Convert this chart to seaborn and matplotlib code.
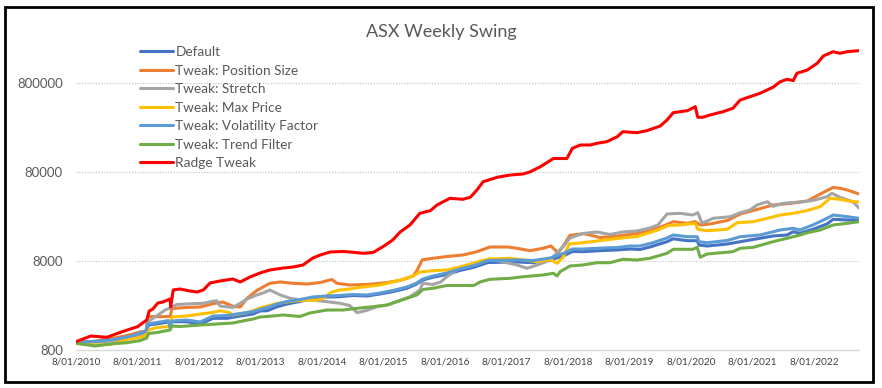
import numpy as np
import pandas as pd
import matplotlib
matplotlib.use("Agg")
import matplotlib.pyplot as plt
from matplotlib.patches import Rectangle
from matplotlib.ticker import NullLocator
import seaborn as sns

title = "ASX Weekly Swing"
series_names = ["Default", "Tweak: Position Size", "Tweak: Stretch", "Tweak: Max Price",
                "Tweak: Volatility Factor", "Tweak: Trend Filter", "Radge Tweak"]
series_colors = ["#4472C4", "#ED7D31", "#A5A5A5", "#FFC000", "#5B9BD5", "#70AD47", "#FF0000"]
x_tick_labels = ["8/01/2010", "8/01/2011", "8/01/2012", "8/01/2013", "8/01/2014", "8/01/2015",
                 "8/01/2016", "8/01/2017", "8/01/2018", "8/01/2019", "8/01/2020", "8/01/2021",
                 "8/01/2022"]
y_ticks = [800, 8000, 80000, 800000]
y_tick_labels = ["800", "8000", "80000", "800000"]

# time as decimal years, equity values
default_t = [2010.02, 2010.41, 2010.69, 2010.95, 2011.11, 2011.17, 2011.20, 2011.39, 2011.55, 2011.82,
             2012.04, 2012.25, 2012.48, 2012.69, 2012.90, 2013.01, 2013.13, 2013.29, 2013.45, 2013.66,
             2013.87, 2014.10, 2014.31, 2014.52, 2014.75, 2014.96, 2015.17, 2015.40, 2015.56, 2015.66,
             2015.82, 2016.05, 2016.26, 2016.49, 2016.72, 2017.19, 2017.45, 2017.73, 2017.94, 2018.09,
             2018.26, 2018.59, 2018.82, 2019.03, 2019.19, 2019.35, 2019.63, 2019.73, 2019.96, 2020.12,
             2020.15, 2020.28, 2020.61, 2020.82, 2021.14, 2021.35, 2021.58, 2021.68, 2021.79, 2022.00,
             2022.23, 2022.33, 2022.56, 2022.75]
default_v = [978, 1000, 1044, 1136, 1241, 1351, 1537, 1606, 1673, 1673,
             1577, 1827, 1827, 1939, 2042, 2206, 2223, 2466, 2643, 2820,
             3063, 3167, 3192, 3292, 3250, 3422, 3631, 3964, 4430, 4912,
             5266, 5659, 6276, 6817, 7716, 7816, 7677, 8232, 9125, 10250,
             10200, 10520, 10660, 10930, 10790, 11510, 13200, 14230, 13540, 13540,
             12120, 11810, 12440, 13200, 14420, 15290, 15690, 17090, 16390, 18180,
             20850, 23540, 23110, 22810]

position_t = [2010.02, 2010.30, 2010.57, 2010.85, 2011.06, 2011.16, 2011.19, 2011.39, 2011.55, 2011.58,
              2011.82, 2012.04, 2012.25, 2012.41, 2012.57, 2012.69, 2012.80, 2012.96, 2013.06, 2013.17,
              2013.34, 2013.55, 2013.78, 2013.99, 2014.18, 2014.26, 2014.47, 2014.80, 2015.08, 2015.29,
              2015.50, 2015.56, 2015.65, 2015.82, 2016.05, 2016.31, 2016.54, 2016.75, 2017.04, 2017.19,
              2017.40, 2017.61, 2017.74, 2017.86, 2017.94, 2018.05, 2018.28, 2018.54, 2018.82, 2019.14,
              2019.35, 2019.63, 2019.73, 2019.96, 2020.09, 2020.17, 2020.33, 2020.61, 2020.82, 2021.09,
              2021.35, 2021.65, 2021.91, 2022.12, 2022.33, 2022.44, 2022.56, 2022.75]
position_v = [978, 1004, 1071, 1172, 1283, 1317, 1915, 1904, 1915, 2354,
              2415, 2447, 2664, 2783, 2497, 2447, 3047, 3745, 4099, 4510,
              4666, 4510, 4430, 4605, 4975, 4510, 4317, 4395, 4605, 4859,
              5446, 6195, 8271, 8601, 9010, 9361, 10200, 11510, 11510, 11130,
              10470, 11130, 11810, 9859, 11810, 15580, 16230, 14710, 15220, 16310,
              17400, 20580, 22120, 21230, 22120, 20320, 20850, 22810, 26980, 30310,
              34050, 35570, 37750, 45220, 53500, 52400, 50150, 45220]

stretch_t = [2010.02, 2010.41, 2010.69, 2010.85, 2011.06, 2011.16, 2011.19, 2011.34, 2011.47, 2011.55,
             2011.66, 2011.87, 2012.09, 2012.25, 2012.31, 2012.36, 2012.57, 2012.69, 2012.80, 2012.96,
             2013.06, 2013.17, 2013.34, 2013.50, 2013.66, 2013.87, 2014.10, 2014.31, 2014.47, 2014.59,
             2014.75, 2014.91, 2015.08, 2015.29, 2015.45, 2015.61, 2015.66, 2015.82, 2015.95, 2016.05,
             2016.17, 2016.26, 2016.43, 2016.75, 2017.19, 2017.35, 2017.52, 2017.73, 2017.84, 2017.94,
             2018.05, 2018.26, 2018.49, 2018.70, 2018.91, 2019.14, 2019.35, 2019.48, 2019.63, 2019.84,
             2020.05, 2020.13, 2020.20, 2020.38, 2020.66, 2020.82, 2020.98, 2021.09, 2021.26, 2021.35,
             2021.52, 2021.79, 2022.00, 2022.23, 2022.31, 2022.44, 2022.65, 2022.75]
stretch_v = [978, 999, 1044, 1085, 1157, 1187, 1673, 1964, 2263, 2384,
             2610, 2657, 2691, 2840, 2878, 2510, 2415, 2691, 3007, 3335,
             3511, 3795, 3335, 3063, 2931, 2931, 2805, 2691, 2543, 2112,
             2243, 2466, 2576, 2894, 3192, 3795, 4510, 4373, 4666, 5348,
             6085, 6782, 7235, 8450, 7235, 6642, 7235, 8232, 9942, 11600,
             14530, 16310, 16960, 15900, 16960, 17400, 18800, 20320, 26980, 27480,
             26290, 27900, 21230, 24150, 25170, 27900, 29930, 34050, 37080, 32920,
             35570, 36790, 38240, 42170, 46050, 41520, 37080, 31500]

maxprice_t = [2010.02, 2010.30, 2010.57, 2010.74, 2010.85, 2011.01, 2011.11, 2011.16, 2011.19, 2011.34,
              2011.53, 2011.58, 2011.82, 2012.04, 2012.25, 2012.36, 2012.52, 2012.57, 2012.80, 2012.90,
              2013.01, 2013.13, 2013.29, 2013.50, 2013.66, 2013.94, 2014.04, 2014.18, 2014.31, 2014.47,
              2014.64, 2014.96, 2015.17, 2015.40, 2015.50, 2015.61, 2015.82, 2016.05, 2016.26, 2016.43,
              2016.64, 2016.75, 2017.08, 2017.29, 2017.52, 2017.73, 2017.84, 2017.94, 2018.04, 2018.26,
              2018.49, 2018.82, 2019.14, 2019.35, 2019.48, 2019.65, 2019.84, 2020.09, 2020.13, 2020.28,
              2020.61, 2020.77, 2021.03, 2021.26, 2021.47, 2021.68, 2021.91, 2022.12, 2022.28, 2022.44,
              2022.65, 2022.75]
maxprice_v = [966, 917, 929, 999, 1057, 1099, 1136, 1218, 1351, 1441,
              1479, 1890, 1939, 2042, 2122, 2223, 2112, 1990, 2112, 2223,
              2384, 2510, 2678, 2820, 2894, 2931, 3063, 3603, 3795, 3893,
              4069, 4317, 4666, 5132, 5446, 6038, 6244, 6357, 6870, 7424,
              8125, 8450, 8601, 8232, 7878, 8337, 7558, 8896, 12440, 12860,
              13440, 14340, 15100, 16740, 17860, 20060, 20320, 21230, 18180, 17530,
              18180, 21560, 22120, 24150, 26290, 27480, 29540, 32590, 40460, 39430,
              37080, 36790]

volatility_t = [2010.02, 2010.41, 2010.69, 2010.95, 2011.11, 2011.16, 2011.18, 2011.39, 2011.52, 2011.55,
                2011.58, 2011.82, 2012.04, 2012.25, 2012.48, 2012.69, 2012.90, 2013.13, 2013.29, 2013.45,
                2013.66, 2013.87, 2014.10, 2014.31, 2014.52, 2014.75, 2014.96, 2015.17, 2015.40, 2015.56,
                2015.66, 2015.82, 2016.05, 2016.26, 2016.49, 2016.72, 2017.19, 2017.45, 2017.73, 2017.94,
                2018.09, 2018.26, 2018.59, 2018.82, 2019.03, 2019.19, 2019.40, 2019.63, 2019.73, 2019.96,
                2020.12, 2020.15, 2020.28, 2020.61, 2020.82, 2021.14, 2021.47, 2021.68, 2021.79, 2022.00,
                2022.23, 2022.33, 2022.56, 2022.75]
volatility_v = [978, 1017, 1071, 1172, 1283, 1317, 1577, 1661, 1726, 1423,
                1705, 1749, 1661, 1939, 1964, 2069, 2178, 2415, 2643, 2820,
                2969, 3167, 3250, 3292, 3378, 3335, 3511, 3745, 4099, 4546,
                5041, 5446, 5885, 6524, 7142, 8125, 8232, 8125, 8666, 9736,
                10930, 10930, 11220, 11370, 11810, 11810, 12860, 14530, 15690, 15010,
                15010, 13200, 12860, 13620, 15010, 15690, 17860, 18660, 17860, 20320,
                24150, 26290, 25170, 24150]

trend_t = [2010.02, 2010.33, 2010.57, 2010.85, 2011.06, 2011.17, 2011.20, 2011.34, 2011.55, 2011.58,
           2011.71, 2012.04, 2012.31, 2012.57, 2012.69, 2012.90, 2013.01, 2013.13, 2013.39, 2013.66,
           2013.82, 2014.10, 2014.36, 2014.59, 2014.85, 2015.08, 2015.29, 2015.40, 2015.56, 2015.66,
           2015.82, 2016.05, 2016.26, 2016.49, 2016.59, 2016.75, 2017.08, 2017.29, 2017.61, 2017.78,
           2017.84, 2017.89, 2018.05, 2018.26, 2018.49, 2018.70, 2018.91, 2019.14, 2019.35, 2019.63,
           2019.73, 2020.05, 2020.12, 2020.17, 2020.28, 2020.70, 2020.82, 2021.03, 2021.35, 2021.58,
           2021.79, 2021.91, 2022.12, 2022.33, 2022.56, 2022.75]
trend_v = [958, 894, 941, 974, 1025, 1099, 1234, 1267, 1351, 1498,
           1479, 1537, 1577, 1618, 1682, 1794, 1890, 1915, 1990, 1915,
           2095, 2263, 2263, 2365, 2466, 2576, 2894, 3063, 3335, 3843,
           3964, 4262, 4262, 4262, 4666, 5001, 5132, 5348, 5588, 5839,
           5446, 6085, 7050, 7235, 7677, 7677, 8381, 8232, 8601, 9785,
           10850, 10850, 11420, 8824, 9609, 10200, 11130, 11420, 13200, 14420,
           15690, 16660, 17860, 20320, 21230, 22120]

radge_t = [2010.02, 2010.26, 2010.52, 2010.77, 2011.02, 2011.17, 2011.21, 2011.27, 2011.35, 2011.43,
           2011.55, 2011.56, 2011.60, 2011.71, 2011.87, 2011.99, 2012.09, 2012.20, 2012.36, 2012.57,
           2012.69, 2012.85, 2013.01, 2013.17, 2013.39, 2013.55, 2013.71, 2013.87, 2013.99, 2014.15,
           2014.36, 2014.52, 2014.69, 2014.85, 2015.01, 2015.17, 2015.29, 2015.45, 2015.61, 2015.78,
           2015.89, 2016.10, 2016.31, 2016.43, 2016.54, 2016.64, 2016.87, 2017.08, 2017.29, 2017.40,
           2017.57, 2017.78, 2018.00, 2018.09, 2018.22, 2018.38, 2018.49, 2018.65, 2018.82, 2018.91,
           2019.14, 2019.30, 2019.52, 2019.63, 2019.73, 2019.96, 2020.09, 2020.13, 2020.21, 2020.33,
           2020.54, 2020.70, 2020.82, 2020.98, 2021.14, 2021.35, 2021.47, 2021.58, 2021.68, 2021.74,
           2021.91, 2022.07, 2022.17, 2022.33, 2022.44, 2022.56, 2022.74]
radge_v = [1000, 1157, 1119, 1293, 1471, 1749, 2206, 2323, 2711, 2783,
           3007, 2447, 3795, 3893, 3698, 3603, 3795, 4546, 4786, 5041,
           4666, 5306, 5885, 6357, 6694, 6870, 7235, 8666, 9361, 10120,
           10250, 10050, 9785, 10000, 11600, 13790, 16960, 20320, 27480, 29390,
           34050, 40460, 39430, 41520, 50150, 62100, 69600, 73850, 75800, 80000,
           91500, 113000, 113000, 147100, 160200, 160200, 167400, 174500, 198500, 225800,
           220100, 231700, 261600, 305500, 368800, 388300, 430700, 327400, 327400, 347500,
           378500, 413100, 511900, 557500, 608700, 710300, 820800, 873800, 842400, 1020000,
           1110000, 1320000, 1594000, 1781000, 1709000, 1781000, 1827000]

series_t = [default_t, position_t, stretch_t, maxprice_t, volatility_t, trend_t, radge_t]
series_v = [default_v, position_v, stretch_v, maxprice_v, volatility_v, trend_v, radge_v]


def year_to_date(t):
    t = np.asarray(t, dtype=float)
    yr = np.floor(t).astype(int)
    base = pd.to_datetime([f"{y}-01-01" for y in yr])
    return base + pd.to_timedelta((t - yr) * 365.25, unit="D")


frames = []
for name, t, v in zip(series_names, series_t, series_v):
    frames.append(pd.DataFrame({"date": year_to_date(t), "value": v, "series": name}))
df = pd.concat(frames, ignore_index=True)

sns.set_style("white")
plt.rcParams["font.family"] = ["Lato", "DejaVu Sans"]

W, H = 882, 388
fig = plt.figure(figsize=(W / 100, H / 100), dpi=100)
ax = fig.add_axes([76 / W, 1 - 350.3 / H, (859 - 76) / W, (350.3 - 40) / H])

sns.lineplot(data=df, x="date", y="value", hue="series", hue_order=series_names,
             palette=dict(zip(series_names, series_colors)), estimator=None, sort=False,
             linewidth=2.2, legend=False, ax=ax)

ax.set_yscale("log")
ax.set_ylim(800, 2.408e6)
ax.set_xlim(year_to_date([2010.02])[0], year_to_date([2022.75])[0])

ax.set_xticks(pd.to_datetime(x_tick_labels, format="%d/%m/%Y"))
ax.set_xticklabels(x_tick_labels, fontsize=7.2, color="#404040")
ax.set_yticks(y_ticks)
ax.set_yticklabels(y_tick_labels, fontsize=9.5, color="#595959")
ax.yaxis.set_minor_locator(NullLocator())
ax.tick_params(axis="both", length=0)
ax.tick_params(axis="y", pad=9.5)
ax.tick_params(axis="x", pad=5)
ax.set_xlabel("")
ax.set_ylabel("")

ax.yaxis.grid(True, color="#BFBFBF", linestyle=(0, (1, 1.5)), linewidth=0.8)
ax.xaxis.grid(False)
for s in ["top", "right", "left"]:
    ax.spines[s].set_visible(False)
ax.spines["bottom"].set_color("#D9D9D9")
ax.spines["bottom"].set_linewidth(1.0)

ax.legend(ax.lines[:7], series_names, loc="upper left",
          bbox_to_anchor=(140 / W, 1 - 46 / H), bbox_transform=fig.transFigure,
          frameon=False, borderpad=0, borderaxespad=0, handlelength=2.4,
          handletextpad=0.2, labelspacing=0.48, fontsize=9.8, labelcolor="#595959")

fig.text(441 / W, 1 - 32 / H, title, ha="center", va="center", fontsize=13, color="#595959")

fig.add_artist(Rectangle((5 / W, 1 - 382 / H), 868 / W, 375 / H, transform=fig.transFigure,
                         fill=False, edgecolor="black", linewidth=2))

fig.savefig("out.png", dpi=100)
